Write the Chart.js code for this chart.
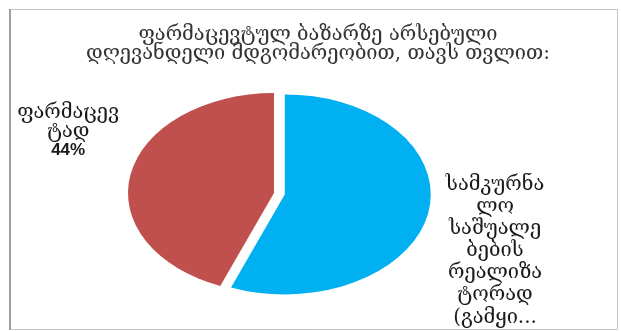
<!DOCTYPE html>
<html>
<head>
<meta charset="utf-8">
<script src="https://cdn.jsdelivr.net/npm/chart.js@4.4.0/dist/chart.umd.min.js"></script>
<style>
  html, body { margin: 0; padding: 0; background: #fff; }
</style>
</head>
<body>
<canvas id="chart" width="621" height="331"></canvas>
<script>
const titleLines = ['ფარმაცევტულ ბაზარზე არსებული', 'დღევანდელი მდგომარეობით, თავს თვლით:'];

const categories = ['სამკურნალო საშუალებების რეალიზატორად (გამყი...', 'ფარმაცევტად'];
const shares = [56, 44];
const sliceColors = ['#00B0F0', '#C0504D'];

// data label text as it wraps next to each slice
const labelLines = [
    ['სამკურნა', 'ლო', 'საშუალე', 'ბების', 'რეალიზა', 'ტორად', '(გამყი...'],
    ['ფარმაცევ', 'ტად']
];
const showPercent = [false, true];

const FONT = "'DejaVu Serif', 'DejaVu Sans', serif";
const STRETCH = 1.46;        // the pie is drawn as a wide ellipse
const explode = [7.5, 0];    // blue slice pulled out a little

// label block centre, measured in (stretched) pie radii from the pie centre
const labelPlace = [
    { ax: 1.514, ay: 0.58, lineHeight: 22.1 },
    { ax: -1.41, ay: -0.615, lineHeight: 19 }
];

const pieStyle = {
    id: 'pieStyle',
    afterDatasetsUpdate(chart) {
        chart.getDatasetMeta(0).data.forEach((arc, i) => {
            const d = explode[i];
            if (!d) return;
            const mid = (arc.startAngle + arc.endAngle) / 2;
            arc.x += Math.cos(mid) * d;
            arc.y += Math.sin(mid) * d;
        });
    },
    beforeDraw(chart) {
        const ctx = chart.ctx;
        ctx.save();
        ctx.fillStyle = '#fff';
        ctx.fillRect(0, 0, chart.width, chart.height);
        // frame
        ctx.strokeStyle = '#c6c6c6';
        ctx.lineWidth = 1;
        ctx.beginPath();
        ctx.moveTo(10, 9.5);
        ctx.lineTo(617.5, 9.5);
        ctx.lineTo(617.5, 329.5);
        ctx.lineTo(10, 329.5);
        ctx.stroke();
        ctx.strokeStyle = '#a0a0a0';
        ctx.lineWidth = 2;
        ctx.beginPath();
        ctx.moveTo(10, 9);
        ctx.lineTo(10, 330);
        ctx.stroke();
        // title
        ctx.fillStyle = '#333';
        ctx.font = '20px ' + FONT;
        ctx.textAlign = 'center';
        ctx.textBaseline = 'middle';
        titleLines.forEach((t, i) => ctx.fillText(t, 318, 34.5 + i * 19));
        ctx.restore();
    },
    beforeDatasetsDraw(chart) {
        const { ctx, chartArea } = chart;
        const cx = (chartArea.left + chartArea.right) / 2;
        ctx.save();
        ctx.translate(cx, 0);
        ctx.scale(STRETCH, 1);
        ctx.translate(-cx, 0);
    },
    afterDatasetsDraw(chart) {
        const { ctx, chartArea } = chart;
        ctx.restore();

        const cx = (chartArea.left + chartArea.right) / 2;
        const cy = (chartArea.top + chartArea.bottom) / 2;
        const arcs = chart.getDatasetMeta(0).data;
        const total = shares.reduce((a, b) => a + b, 0);

        ctx.save();
        ctx.fillStyle = '#1a1a1a';
        ctx.textAlign = 'center';
        ctx.textBaseline = 'middle';
        arcs.forEach((arc, i) => {
            const r = arc.outerRadius;
            const p = labelPlace[i];
            const lines = labelLines[i].map(t => ({ text: t, bold: false }));
            if (showPercent[i]) {
                lines.push({ text: Math.round(shares[i] / total * 100) + '%', bold: true });
            }
            const x = cx + p.ax * r * STRETCH;
            const y0 = cy + p.ay * r - (lines.length - 1) * p.lineHeight / 2;
            lines.forEach((ln, j) => {
                ctx.font = ln.bold ? "bold 17px 'Liberation Sans', Arial, sans-serif" : '20px ' + FONT;
                ctx.fillText(ln.text, x, y0 + j * p.lineHeight);
            });
        });
        ctx.restore();
    }
};

new Chart(document.getElementById('chart'), {
    type: 'pie',
    data: {
        labels: categories,
        datasets: [{
            data: shares,
            backgroundColor: sliceColors,
            borderWidth: 0
        }]
    },
    options: {
        responsive: false,
        animation: false,
        radius: 100,
        layout: { padding: { top: 70, left: 0, right: 73, bottom: 15 } },
        plugins: {
            legend: { display: false },
            title: { display: false },
            tooltip: { enabled: false }
        }
    },
    plugins: [pieStyle]
});
</script>
</body>
</html>
